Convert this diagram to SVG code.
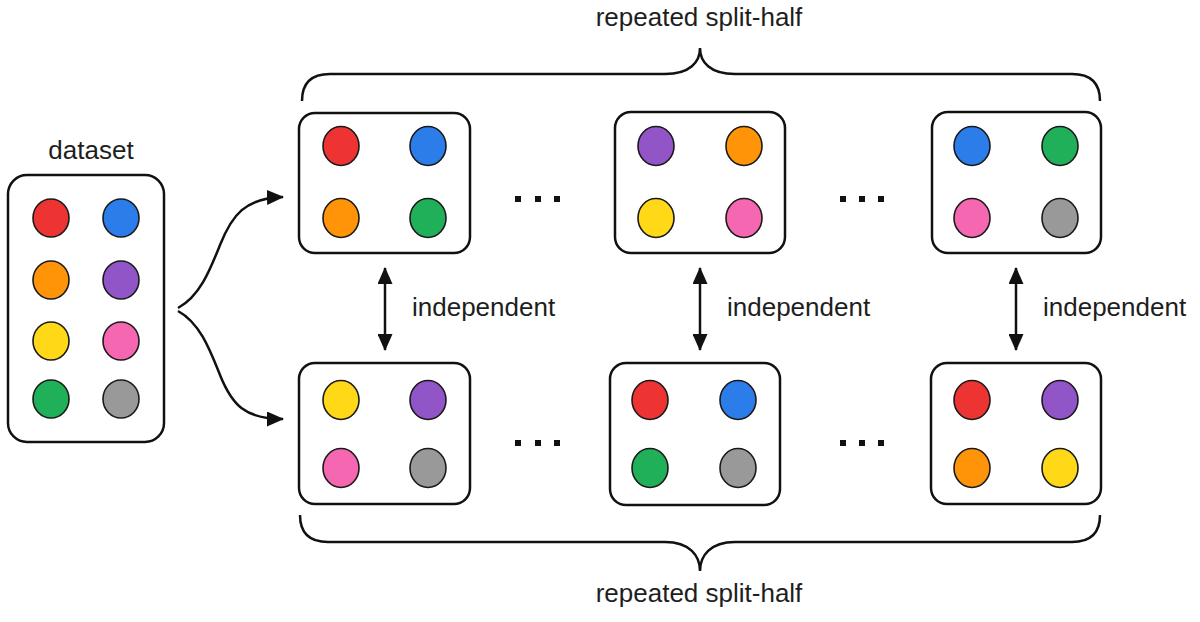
<svg xmlns="http://www.w3.org/2000/svg" width="1200" height="622" viewBox="0 0 1200 622">
<defs>
<style>
.box{fill:#ffffff;stroke:#111;stroke-width:2.5}
.c{stroke:#1a1a1a;stroke-width:1.6}
.lbl{font-family:"Liberation Sans",Arial,sans-serif;font-size:26px;fill:#1e1e1e}
.conn{fill:none;stroke:#111;stroke-width:2.5}
.dot{fill:#111}
.red{fill:#ee3333}.blue{fill:#2b7de9}.orange{fill:#ff9408}.purple{fill:#9155c8}
.yellow{fill:#ffd818}.pink{fill:#f567b0}.green{fill:#21b05a}.gray{fill:#999999}
</style>
<marker id="ah" viewBox="0 0 17 15" refX="16" refY="7.5" markerWidth="17" markerHeight="15" markerUnits="userSpaceOnUse" orient="auto-start-reverse">
<path d="M0,0 L17,7.5 L0,15 Z" fill="#111"/>
</marker>
</defs>
<rect width="1200" height="622" fill="#ffffff"/>

<g id="dataset">
<text class="lbl" x="91" y="159" text-anchor="middle">dataset</text>
<rect class="box" x="8" y="175" width="156" height="267" rx="19"/>
<ellipse class="c red" cx="51" cy="218" rx="18" ry="19"/>
<ellipse class="c blue" cx="121" cy="218" rx="18" ry="19"/>
<ellipse class="c orange" cx="51" cy="280" rx="18" ry="19"/>
<ellipse class="c purple" cx="121" cy="280" rx="18" ry="19"/>
<ellipse class="c yellow" cx="51" cy="341" rx="18" ry="19"/>
<ellipse class="c pink" cx="121" cy="341" rx="18" ry="19"/>
<ellipse class="c green" cx="51" cy="399" rx="18" ry="19"/>
<ellipse class="c gray" cx="121" cy="399" rx="18" ry="19"/>
</g>

<g id="top1">
<rect class="box" x="299" y="113" width="171" height="140" rx="16"/>
<ellipse class="c red" cx="341" cy="146" rx="18" ry="19.5"/>
<ellipse class="c blue" cx="428" cy="146" rx="18" ry="19.5"/>
<ellipse class="c orange" cx="341" cy="218" rx="18" ry="19.5"/>
<ellipse class="c green" cx="428" cy="218" rx="18" ry="19.5"/>
</g>
<g id="top2">
<rect class="box" x="615" y="112" width="170" height="141" rx="16"/>
<ellipse class="c purple" cx="656" cy="146" rx="18" ry="19.5"/>
<ellipse class="c orange" cx="744" cy="146" rx="18" ry="19.5"/>
<ellipse class="c yellow" cx="656" cy="218" rx="18" ry="19.5"/>
<ellipse class="c pink" cx="744" cy="218" rx="18" ry="19.5"/>
</g>
<g id="top3">
<rect class="box" x="932" y="112" width="169" height="141" rx="16"/>
<ellipse class="c blue" cx="972" cy="146" rx="18" ry="19.5"/>
<ellipse class="c green" cx="1060" cy="146" rx="18" ry="19.5"/>
<ellipse class="c pink" cx="972" cy="218" rx="18" ry="19.5"/>
<ellipse class="c gray" cx="1060" cy="218" rx="18" ry="19.5"/>
</g>

<g id="bot1">
<rect class="box" x="299" y="363" width="171" height="141" rx="16"/>
<ellipse class="c yellow" cx="341" cy="400" rx="18" ry="19.5"/>
<ellipse class="c purple" cx="428" cy="400" rx="18" ry="19.5"/>
<ellipse class="c pink" cx="341" cy="468" rx="18" ry="19.5"/>
<ellipse class="c gray" cx="428" cy="468" rx="18" ry="19.5"/>
</g>
<g id="bot2">
<rect class="box" x="610" y="363" width="170" height="142" rx="16"/>
<ellipse class="c red" cx="650" cy="400" rx="18" ry="19.5"/>
<ellipse class="c blue" cx="738" cy="400" rx="18" ry="19.5"/>
<ellipse class="c green" cx="650" cy="468" rx="18" ry="19.5"/>
<ellipse class="c gray" cx="738" cy="468" rx="18" ry="19.5"/>
</g>
<g id="bot3">
<rect class="box" x="931" y="363" width="170" height="141" rx="16"/>
<ellipse class="c red" cx="972" cy="400" rx="18" ry="19.5"/>
<ellipse class="c purple" cx="1060" cy="400" rx="18" ry="19.5"/>
<ellipse class="c orange" cx="972" cy="468" rx="18" ry="19.5"/>
<ellipse class="c yellow" cx="1060" cy="468" rx="18" ry="19.5"/>
</g>

<g id="ellipses">
<rect class="dot" x="515" y="196" width="6" height="6"/>
<rect class="dot" x="535" y="196" width="6" height="6"/>
<rect class="dot" x="554" y="196" width="6" height="6"/>
<rect class="dot" x="840" y="196" width="6" height="6"/>
<rect class="dot" x="859" y="196" width="6" height="6"/>
<rect class="dot" x="878" y="196" width="6" height="6"/>
<rect class="dot" x="515" y="440" width="6" height="6"/>
<rect class="dot" x="535" y="440" width="6" height="6"/>
<rect class="dot" x="554" y="440" width="6" height="6"/>
<rect class="dot" x="840" y="440" width="6" height="6"/>
<rect class="dot" x="859" y="440" width="6" height="6"/>
<rect class="dot" x="878" y="440" width="6" height="6"/>
</g>

<g id="braces">
<path class="conn" d="M302,101 Q302,74 330,74 L665,74 C690,74 700,62 700,48 C700,62 710,74 735,74 L1072,74 Q1100,74 1100,101"/>
<text class="lbl" x="699" y="26" text-anchor="middle">repeated split-half</text>
<path class="conn" d="M300,515 Q300,542 328,542 L665,542 C690,542 700,556 700,571 C700,556 710,542 735,542 L1072,542 Q1100,542 1100,515"/>
<text class="lbl" x="699" y="602" text-anchor="middle">repeated split-half</text>
</g>

<g id="connectors">
<path class="conn" d="M178,308 C200,296 210,270 220,245 C232,215 245,198 283,197" marker-end="url(#ah)"/>
<path class="conn" d="M178,311 C200,323 210,350 220,375 C232,405 245,419 283,419" marker-end="url(#ah)"/>
<path class="conn" d="M385,268 L385,350" marker-start="url(#ah)" marker-end="url(#ah)"/>
<path class="conn" d="M700,268 L700,350" marker-start="url(#ah)" marker-end="url(#ah)"/>
<path class="conn" d="M1016,268 L1016,350" marker-start="url(#ah)" marker-end="url(#ah)"/>
<text class="lbl" x="412" y="316">independent</text>
<text class="lbl" x="727" y="316">independent</text>
<text class="lbl" x="1043" y="316">independent</text>
</g>
</svg>
